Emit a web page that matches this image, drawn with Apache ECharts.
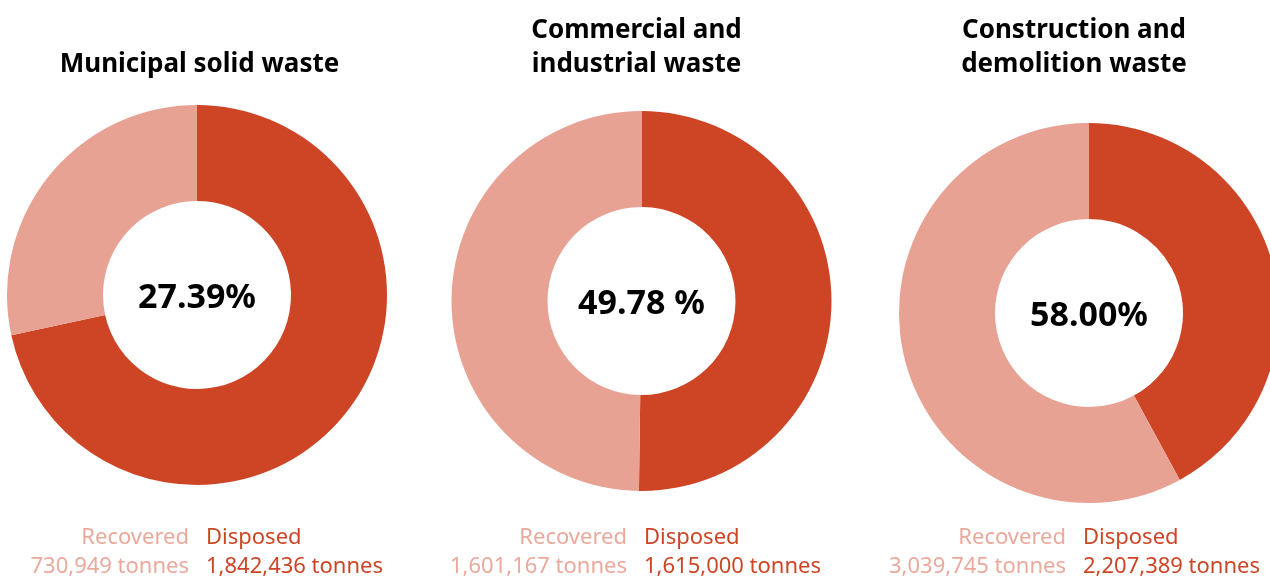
<!DOCTYPE html>
<html><head><meta charset="utf-8">
<script src="https://cdn.jsdelivr.net/npm/echarts@6/dist/echarts.min.js"></script>
<style>html,body{margin:0;padding:0;background:#fff}#c{width:1270px;height:579px}</style>
</head><body><div id="c"></div>
<script>
const titles = ['Municipal solid waste', 'Commercial and\nindustrial waste', 'Construction and\ndemolition waste'];
const recovered = [730949, 1601167, 3039745];
const disposed = [1842436, 1615000, 2207389];
const centerLabels = ['27.39%', '49.78 %', '58.00%'];
const seriesNames = ['Disposed', 'Recovered'];

const DARK = '#CE4526', LIGHT = '#E8A293', LIGHT_TXT = '#EBA99C';
const FONT = '"Noto Sans", "Open Sans", sans-serif';
const centers = [[197, 295], [641.5, 301], [1089, 313]];
const titleX = [199.5, 636.5, 1074];
const titleY = [48, 14, 14];
const legendX = [198, 636, 1075];
const fmt = v => v.toLocaleString('en-US') + ' tonnes';

const chart = echarts.init(document.getElementById('c'), null, {renderer: 'canvas'});
const series = [], title = [], graphic = [];
titles.forEach((t, i) => {
  title.push({
    text: t, left: titleX[i], top: titleY[i], textAlign: 'center', padding: 0,
    textStyle: {fontFamily: FONT, fontWeight: 'bold', fontSize: 26, color: '#000', lineHeight: 34}
  });
  series.push({
    type: 'pie', center: centers[i], radius: [94, 190], startAngle: 90, clockwise: true,
    silent: true, animation: false,
    label: {show: false}, labelLine: {show: false},
    itemStyle: {borderWidth: 0},
    data: [
      {name: seriesNames[0], value: disposed[i], itemStyle: {color: DARK}},
      {name: seriesNames[1], value: recovered[i], itemStyle: {color: LIGHT}}
    ]
  });
  graphic.push({
    type: 'text', x: centers[i][0], y: centers[i][1] + 3,
    style: {text: centerLabels[i], fontFamily: FONT, fontWeight: 'bold', fontSize: 34,
      fill: '#000', align: 'center', verticalAlign: 'middle'}
  });
  const lx = legendX[i] - 9, rx = legendX[i] + 8;
  const st = {fontFamily: FONT, fontSize: 22, verticalAlign: 'middle'};
  graphic.push({type: 'text', x: lx, y: 538, style: Object.assign({text: seriesNames[1], fill: LIGHT_TXT, align: 'right'}, st)});
  graphic.push({type: 'text', x: lx, y: 567, style: Object.assign({text: fmt(recovered[i]), fill: LIGHT_TXT, align: 'right'}, st)});
  graphic.push({type: 'text', x: rx, y: 538, style: Object.assign({text: seriesNames[0], fill: DARK, align: 'left'}, st)});
  graphic.push({type: 'text', x: rx, y: 567, style: Object.assign({text: fmt(disposed[i]), fill: DARK, align: 'left'}, st)});
});
chart.setOption({animation: false, title, series, graphic});
</script></body></html>
